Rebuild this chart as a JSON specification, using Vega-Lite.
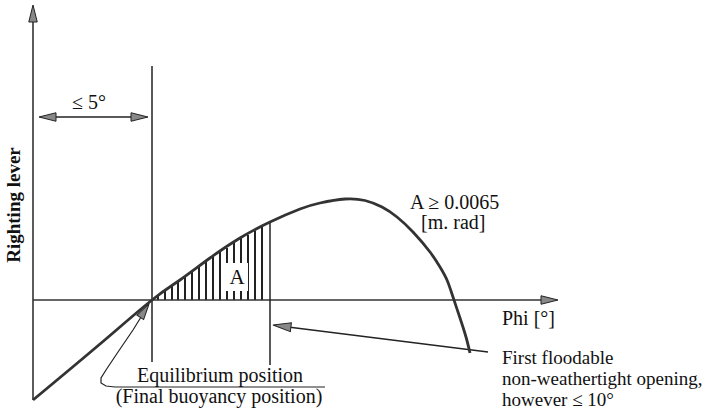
{
  "$schema": "https://vega.github.io/schema/vega-lite/v6.json",
  "width": 720,
  "height": 413,
  "padding": 0,
  "autosize": {"type": "none"},
  "background": "white",
  "config": {"view": {"stroke": null}},
  "datasets": {
    "curve": [
      {"x": 33, "y": -100}, {"x": 100, "y": -44}, {"x": 152, "y": 0}, {"x": 180, "y": 20},
      {"x": 210, "y": 42}, {"x": 240, "y": 62}, {"x": 270, "y": 78}, {"x": 300, "y": 91},
      {"x": 320, "y": 97}, {"x": 345, "y": 101}, {"x": 365, "y": 99.5}, {"x": 382, "y": 93},
      {"x": 397, "y": 83}, {"x": 413, "y": 68}, {"x": 430, "y": 48}, {"x": 440, "y": 33},
      {"x": 447, "y": 20}, {"x": 453, "y": 3}, {"x": 460, "y": -18}, {"x": 466, "y": -37},
      {"x": 470, "y": -53}
    ],
    "hatch": [
      {"x": 158, "top": 4}, {"x": 165, "top": 9}, {"x": 172, "top": 14}, {"x": 178, "top": 18},
      {"x": 185, "top": 23}, {"x": 192, "top": 28}, {"x": 199, "top": 33}, {"x": 206, "top": 38},
      {"x": 213, "top": 43}, {"x": 220, "top": 48}, {"x": 227, "top": 52}, {"x": 234, "top": 57},
      {"x": 241, "top": 62}, {"x": 248, "top": 65}, {"x": 255, "top": 69}, {"x": 262, "top": 73}
    ],
    "segments": [
      {"kind": "axis", "x": 33, "y": -100, "x2": 33, "y2": 290},
      {"kind": "axis", "x": 33, "y": 0, "x2": 550, "y2": 0},
      {"kind": "guide", "x": 152, "y": 234, "x2": 152, "y2": -62},
      {"kind": "guide", "x": 270, "y": 78, "x2": 270, "y2": -65},
      {"kind": "pointer", "x": 45, "y": 183, "x2": 142, "y2": 183},
      {"kind": "pointer", "x": 280, "y": -26, "x2": 488, "y2": -52}
    ],
    "box": [{"x": 226, "x2": 248, "y": 9, "y2": 37}],
    "arrows": [
      {"dir": "up", "x": 33, "y": 295},
      {"dir": "right", "x": 558, "y": 0},
      {"dir": "left", "x": 39, "y": 183},
      {"dir": "right", "x": 148, "y": 183},
      {"dir": "flood", "x": 273, "y": -25},
      {"dir": "eq", "x": 149, "y": -4}
    ],
    "eqpath": [
      {"i": 1, "x": 146, "y": -9}, {"i": 2, "x": 133, "y": -30}, {"i": 3, "x": 118, "y": -52},
      {"i": 4, "x": 106, "y": -70}, {"i": 5, "x": 101, "y": -78}, {"i": 6, "x": 101, "y": -83},
      {"i": 7, "x": 106, "y": -86}, {"i": 8, "x": 115, "y": -87}, {"i": 9, "x": 325, "y": -87}
    ],
    "leftlabels": [
      {"text": "≤ 5°", "x": 72, "y": 191},
      {"text": "A ≥ 0.0065", "x": 410, "y": 91},
      {"text": "[m. rad]", "x": 421, "y": 71},
      {"text": "Phi [°]", "x": 502, "y": -25}
    ],
    "noteline": [
      {"text": "First floodable", "x": 502, "y": -64},
      {"text": "non-weathertight opening,", "x": 502, "y": -85},
      {"text": "however ≤ 10°", "x": 502, "y": -106}
    ],
    "centerlabels": [
      {"text": "Equilibrium position", "x": 220, "y": -82},
      {"text": "(Final buoyancy position)", "x": 219, "y": -103}
    ],
    "area": [{"text": "A", "x": 237, "y": 22}],
    "ylabel": [{"text": "Righting lever", "x": 14, "y": 95}]
  },
  "encoding": {
    "x": {"field": "x", "type": "quantitative", "scale": {"domain": [0, 720], "nice": false, "zero": false}, "axis": null},
    "y": {"field": "y", "type": "quantitative", "scale": {"domain": [-113, 300], "nice": false, "zero": false}, "axis": null}
  },
  "layer": [
    {
      "data": {"name": "hatch"},
      "mark": {"type": "rule", "color": "#222", "strokeWidth": 2},
      "encoding": {"y": {"field": "top", "type": "quantitative"}, "y2": {"datum": 0}}
    },
    {
      "data": {"name": "box"},
      "mark": {"type": "rect", "fill": "white"},
      "encoding": {"x2": {"field": "x2"}, "y2": {"field": "y2"}}
    },
    {
      "data": {"name": "segments"},
      "transform": [{"filter": "datum.kind === 'axis'"}],
      "mark": {"type": "rule", "color": "#333", "strokeWidth": 1.6},
      "encoding": {"x2": {"field": "x2"}, "y2": {"field": "y2"}}
    },
    {
      "data": {"name": "segments"},
      "transform": [{"filter": "datum.kind === 'guide'"}],
      "mark": {"type": "rule", "color": "#222", "strokeWidth": 1.5},
      "encoding": {"x2": {"field": "x2"}, "y2": {"field": "y2"}}
    },
    {
      "data": {"name": "segments"},
      "transform": [{"filter": "datum.kind === 'pointer'"}],
      "mark": {"type": "rule", "color": "#222", "strokeWidth": 1.3},
      "encoding": {"x2": {"field": "x2"}, "y2": {"field": "y2"}}
    },
    {
      "data": {"name": "eqpath"},
      "mark": {"type": "line", "color": "#222", "strokeWidth": 1.2},
      "encoding": {"order": {"field": "i", "type": "quantitative"}}
    },
    {
      "data": {"name": "curve"},
      "mark": {"type": "line", "color": "#333", "strokeWidth": 2.8, "interpolate": "natural"},
      "encoding": {}
    },
    {
      "data": {"name": "arrows"},
      "transform": [{"filter": "datum.dir === 'up'"}],
      "mark": {"type": "point", "shape": "M0,0 L-2,-0.5 L-2,0.5 Z", "size": 289, "angle": -90, "filled": true, "fill": "#888", "stroke": "#222", "strokeWidth": 1, "opacity": 1},
      "encoding": {}
    },
    {
      "data": {"name": "arrows"},
      "transform": [{"filter": "datum.dir === 'right'"}],
      "mark": {"type": "point", "shape": "M0,0 L-2,-0.5 L-2,0.5 Z", "size": 289, "angle": 0, "filled": true, "fill": "#888", "stroke": "#222", "strokeWidth": 1, "opacity": 1},
      "encoding": {}
    },
    {
      "data": {"name": "arrows"},
      "transform": [{"filter": "datum.dir === 'left'"}],
      "mark": {"type": "point", "shape": "M0,0 L-2,-0.5 L-2,0.5 Z", "size": 289, "angle": 180, "filled": true, "fill": "#888", "stroke": "#222", "strokeWidth": 1, "opacity": 1},
      "encoding": {}
    },
    {
      "data": {"name": "arrows"},
      "transform": [{"filter": "datum.dir === 'flood'"}],
      "mark": {"type": "point", "shape": "M0,0 L-2,-0.5 L-2,0.5 Z", "size": 324, "angle": 187, "filled": true, "fill": "#888", "stroke": "#222", "strokeWidth": 1, "opacity": 1},
      "encoding": {}
    },
    {
      "data": {"name": "arrows"},
      "transform": [{"filter": "datum.dir === 'eq'"}],
      "mark": {"type": "point", "shape": "M0,0 L-2,-0.5 L-2,0.5 Z", "size": 256, "angle": -57, "filled": true, "fill": "#888", "stroke": "#222", "strokeWidth": 1, "opacity": 1},
      "encoding": {}
    },
    {
      "data": {"name": "leftlabels"},
      "mark": {"type": "text", "align": "left", "baseline": "alphabetic", "font": "Liberation Serif", "fontSize": 20, "color": "#111"},
      "encoding": {"text": {"field": "text"}}
    },
    {
      "data": {"name": "noteline"},
      "mark": {"type": "text", "align": "left", "baseline": "alphabetic", "font": "Liberation Serif", "fontSize": 19, "color": "#111"},
      "encoding": {"text": {"field": "text"}}
    },
    {
      "data": {"name": "centerlabels"},
      "mark": {"type": "text", "align": "center", "baseline": "alphabetic", "font": "Liberation Serif", "fontSize": 20, "color": "#111"},
      "encoding": {"text": {"field": "text"}}
    },
    {
      "data": {"name": "area"},
      "mark": {"type": "text", "align": "center", "baseline": "middle", "font": "Liberation Serif", "fontSize": 21, "color": "#111"},
      "encoding": {"text": {"field": "text"}}
    },
    {
      "data": {"name": "ylabel"},
      "mark": {"type": "text", "align": "center", "baseline": "middle", "angle": 270, "font": "Liberation Serif", "fontSize": 19, "fontWeight": "bold", "color": "#111"},
      "encoding": {"text": {"field": "text"}}
    }
  ]
}
